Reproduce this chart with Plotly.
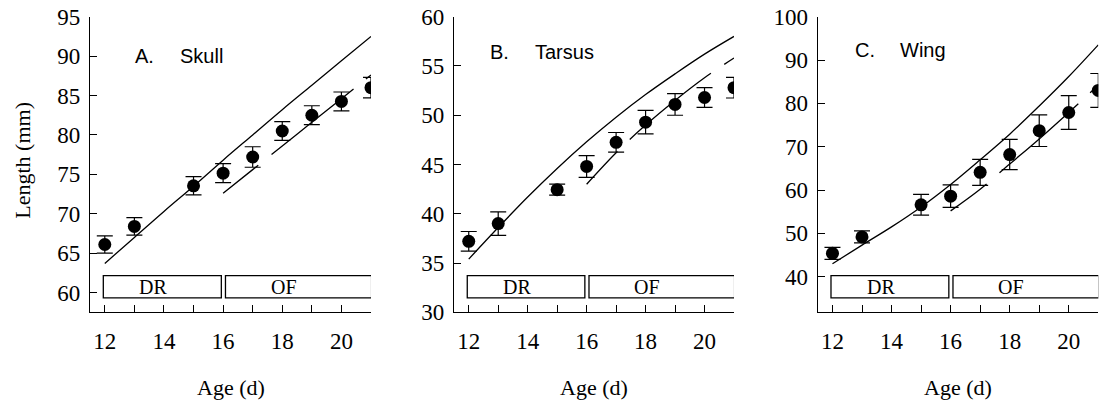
import plotly.graph_objects as go

# ---------------- data ----------------
ages = [12, 13, 15, 16, 17, 18, 19, 20, 21]
model_ages = [12, 13, 14, 15, 16, 17, 18, 19, 20, 21]
of_ages = [16, 17, 18, 19, 20, 21]

skull_mean = [66.1, 68.4, 73.55, 75.15, 77.2, 80.5, 82.5, 84.25, 86.0]
skull_se = [1.1, 1.1, 1.15, 1.2, 1.3, 1.2, 1.2, 1.2, 1.3]
skull_model = [63.7, 67.0, 70.3, 73.5, 76.8, 80.0, 83.2, 86.3, 89.4, 92.5]
skull_of_model = [72.6, 75.6, 78.6, 81.6, 84.6, 87.6]

tarsus_mean = [37.2, 39.0, 42.45, 44.8, 47.25, 49.3, 51.1, 51.8, 52.8]
tarsus_se = [1.0, 1.2, 0.55, 1.1, 1.0, 1.2, 1.1, 1.0, 1.05]
tarsus_model = [35.4, 38.6, 41.7, 44.6, 47.3, 49.8, 52.1, 54.2, 56.2, 58.0]
tarsus_of_model = [43.0, 46.2, 49.0, 51.5, 53.8, 55.8]

wing_mean = [45.4, 49.2, 56.6, 58.6, 64.1, 68.2, 73.7, 77.9, 83.0]
wing_se = [1.4, 1.4, 2.4, 2.6, 3.0, 3.5, 3.65, 3.9, 3.9]
wing_model = [43.0, 47.3, 51.5, 56.1, 61.3, 67.0, 72.9, 79.4, 86.2, 93.5]
wing_of_model = [55.2, 60.2, 66.0, 71.8, 77.9, 84.2]

panel_letters = ["A.", "B.", "C."]
panel_names = ["Skull", "Tarsus", "Wing"]
y_ranges = [[57.5, 95], [30, 60], [31.8, 100]]
y_ticks = [[60, 65, 70, 75, 80, 85, 90, 95],
           [30, 35, 40, 45, 50, 55, 60],
           [40, 50, 60, 70, 80, 90, 100]]
x_tickvals = [12, 13, 14, 15, 16, 17, 18, 19, 20, 21]
x_ticktext = ["12", "", "14", "", "16", "", "18", "", "20", ""]
phases = [("DR", 12, 16), ("OF", 16, 21)]
x_title = "Age (d)"
y_title = "Length (mm)"

# ---------------- layout constants ----------------
W, H = 1106, 405
x_domains = [[90 / W, 371 / W], [454 / W, 734 / W], [817.7 / W, 1098.3 / W]]
y_domain = [1 - 312.3 / H, 1 - 16.7 / H]
label_y = [90.05, 56.4, 92.3]
letter_x = [12.95, 12.64, 12.69]
name_x = [14.48, 14.17, 14.23]

SERIF = "Liberation Serif, Times New Roman, serif"
SANS = "Liberation Sans, Arial, sans-serif"

fig = go.Figure()
means = [skull_mean, tarsus_mean, wing_mean]
ses = [skull_se, tarsus_se, wing_se]
models = [skull_model, tarsus_model, wing_model]
of_models = [skull_of_model, tarsus_of_model, wing_of_model]

annotations = []
shapes = []
for i in range(3):
    xa = "x" if i == 0 else f"x{i+1}"
    ya = "y" if i == 0 else f"y{i+1}"
    fig.add_trace(go.Scatter(x=model_ages, y=models[i], mode="lines",
                             line=dict(color="black", width=1.3, shape="spline"),
                             xaxis=xa, yaxis=ya, showlegend=False, hoverinfo="skip"))
    fig.add_trace(go.Scatter(x=of_ages, y=of_models[i], mode="lines",
                             line=dict(color="black", width=1.3, shape="spline",
                                       dash="45px,17px,105px,16px"),
                             xaxis=xa, yaxis=ya, showlegend=False, hoverinfo="skip"))
    fig.add_trace(go.Scatter(x=ages, y=means[i], mode="markers",
                             marker=dict(color="black", size=13, line=dict(width=0)),
                             error_y=dict(type="data", array=ses[i], visible=True,
                                          color="black", thickness=1.2, width=8),
                             xaxis=xa, yaxis=ya, showlegend=False))
    axkey = "xaxis" if i == 0 else f"xaxis{i+1}"
    aykey = "yaxis" if i == 0 else f"yaxis{i+1}"
    fig.layout[axkey] = dict(domain=x_domains[i], anchor=ya, range=[11.5, 21],
                             tickvals=x_tickvals, ticktext=x_ticktext,
                             ticks="inside", ticklen=7, tickwidth=1.3, tickcolor="black",
                             showline=True, linecolor="black", linewidth=1.3,
                             showgrid=False, zeroline=False, automargin=False,
                             tickfont=dict(family=SERIF, size=23, color="black"),
                             ticklabelstandoff=8)
    fig.layout[aykey] = dict(domain=y_domain, anchor=xa, range=y_ranges[i],
                             tickvals=y_ticks[i],
                             ticks="inside", ticklen=7, tickwidth=1.3, tickcolor="black",
                             showline=True, linecolor="black", linewidth=1.3,
                             showgrid=False, zeroline=False, automargin=False,
                             tickfont=dict(family=SERIF, size=23, color="black"),
                             ticklabelstandoff=4)
    # panel labels
    annotations.append(dict(x=letter_x[i], y=label_y[i], xref=xa, yref=ya,
                            text=panel_letters[i], showarrow=False, xanchor="left",
                            yanchor="middle", font=dict(family=SANS, size=20, color="black")))
    annotations.append(dict(x=name_x[i], y=label_y[i], xref=xa, yref=ya,
                            text=panel_names[i], showarrow=False, xanchor="left",
                            yanchor="middle", font=dict(family=SANS, size=20, color="black")))
    # x title
    annotations.append(dict(x=0.5, y=1 - 387 / H, xref=f"{xa} domain", yref="paper",
                            text=x_title, showarrow=False, xanchor="center", yanchor="middle",
                            font=dict(family=SERIF, size=22, color="black")))
    # phase boxes
    for j, (lab, a0, a1) in enumerate(phases):
        x0 = a0 - 0.05 if j == 0 else a0 + 0.08
        x1 = a1 - 0.06 if j == 0 else a1 + 0.02
        shapes.append(dict(type="rect", xref=xa, yref=f"{ya} domain",
                           x0=x0, x1=x1, y0=0.049, y1=0.124,
                           line=dict(color="black", width=1.3), fillcolor="white"))
        annotations.append(dict(x=a0 + 0.41 * (a1 - a0), y=0.084, xref=xa,
                                yref=f"{ya} domain", text=lab, showarrow=False,
                                xanchor="center", yanchor="middle",
                                font=dict(family=SERIF, size=20, color="black")))

annotations.append(dict(x=21.7 / W, y=1 - 160 / H, xref="paper", yref="paper",
                        text=y_title, textangle=-90, showarrow=False,
                        xanchor="center", yanchor="middle",
                        font=dict(family=SERIF, size=22, color="black")))

fig.update_layout(width=W, height=H, margin=dict(l=0, r=0, t=0, b=0),
                  paper_bgcolor="white", plot_bgcolor="white",
                  annotations=annotations, shapes=shapes)
fig.write_html("out.html")
